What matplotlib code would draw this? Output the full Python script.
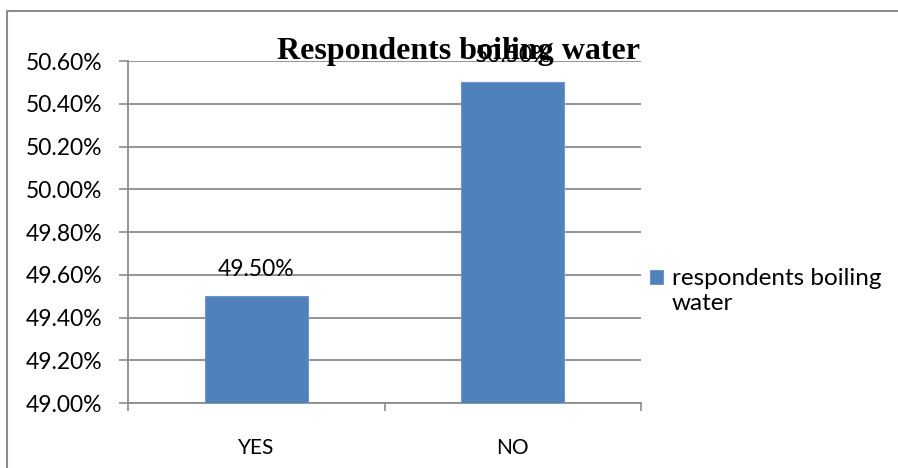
import matplotlib.pyplot as plt
from matplotlib.lines import Line2D

# survey answers
categories = ['YES', 'NO']
shares = [49.50, 50.50]
series_name = 'respondents boiling\nwater'
yticks = [49.0, 49.2, 49.4, 49.6, 49.8, 50.0, 50.2, 50.4, 50.6]

bar_color = '#4F81BD'
grid_color = '#8C8C8C'
plt.rcParams['font.family'] = ['Lato', 'DejaVu Sans']

fig = plt.figure(figsize=(8.98, 4.68), dpi=100)
ax = fig.add_axes([128 / 898, 1 - 403 / 468, 513 / 898, 342 / 468])

x = range(len(categories))
bars = ax.bar(x, shares, width=0.4, color=bar_color, edgecolor='#6E96C8',
              linewidth=0.8, label=series_name, zorder=3)

ax.set_ylim(49.0, 50.6)
ax.set_xlim(-0.5, 1.5)
ax.set_yticks(yticks)
ax.set_yticklabels(['%.2f%%' % v for v in yticks])
ax.yaxis.grid(True, color=grid_color, linewidth=1.3, zorder=0)

# category ticks sit on the boundaries, labels in the middle
ax.set_xticks([-0.5, 0.5, 1.5])
ax.set_xticklabels([])
ax.set_xticks(list(x), minor=True)
ax.set_xticklabels(categories, minor=True)
ax.tick_params(axis='x', which='major', length=6, width=1.2, color=grid_color,
               direction='out')
ax.tick_params(axis='x', which='minor', length=0, pad=25, labelsize=15)
ax.tick_params(axis='y', length=6.5, width=1.2, color=grid_color, pad=12,
               labelsize=16.5)

for side in ['top', 'right']:
    ax.spines[side].set_visible(False)
for side in ['left', 'bottom']:
    ax.spines[side].set_color(grid_color)
    ax.spines[side].set_linewidth(1.3)

for b, v in zip(bars, shares):
    ax.annotate('%.2f%%' % v, (b.get_x() + b.get_width() / 2, v),
                xytext=(0, 14.5), textcoords='offset points',
                ha='center', va='baseline', fontsize=16.5, zorder=5)

fig.text(458 / 898, 1 - 59 / 468, 'Respondents boiling water',
         ha='center', va='baseline', fontsize=23, fontweight='bold',
         family=['Liberation Serif', 'DejaVu Serif'])

leg = ax.legend(loc='center left', bbox_to_anchor=(650 / 898, 1 - 291 / 468),
                bbox_transform=fig.transFigure, frameon=False, fontsize=17.5,
                handlelength=0.55, handleheight=0.55, handletextpad=0.35,
                borderaxespad=0, borderpad=0, labelspacing=0.2)
h = leg.legend_handles[0]
h.set_y(h.get_y() + 10)

# chart border (only top and left edges fall inside the image)
fig.add_artist(Line2D([6.5 / 898, 6.5 / 898, 1.0], [0.0, 1 - 11 / 468, 1 - 11 / 468],
                      transform=fig.transFigure, color='#8C8C8C', linewidth=1.5))

fig.savefig('out.png', dpi=100)
